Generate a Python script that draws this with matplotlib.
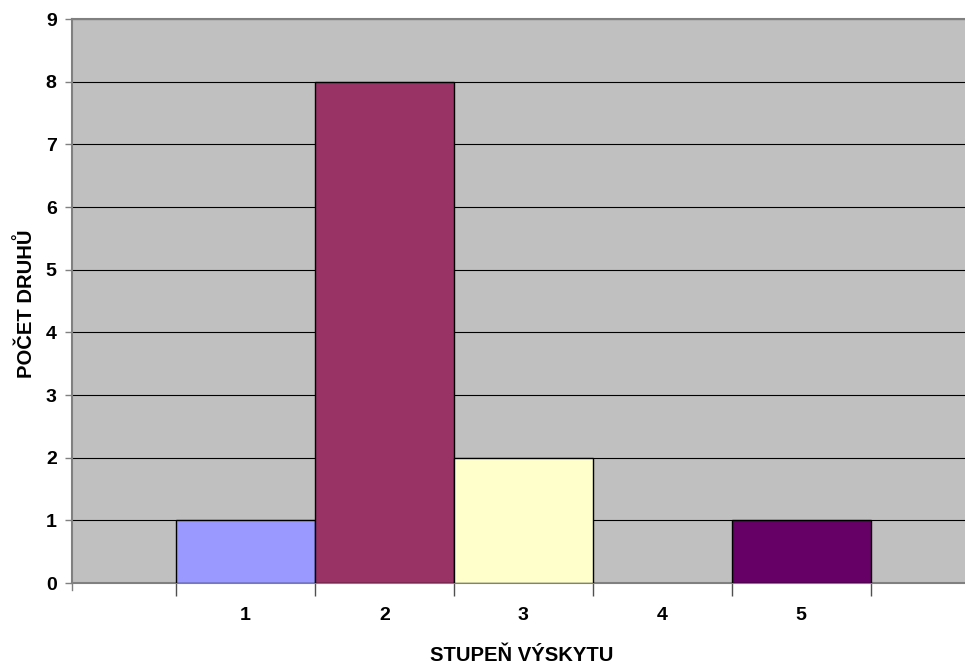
import matplotlib
matplotlib.use("Agg")
import matplotlib.pyplot as plt
from matplotlib.transforms import blended_transform_factory

categories = [1, 2, 3, 4, 5]
counts = [1, 8, 2, 0, 1]
bar_colors = ["#9999FF", "#993366", "#FFFFCC", "#C0C0C0", "#660066"]
y_ticks = list(range(0, 10))
x_title = "STUPEŇ VÝSKYTU"
y_title = "POČET DRUHŮ"

plt.rcParams["font.family"] = ["Liberation Sans", "DejaVu Sans"]
FS = 14
FS_TITLE = 14.6

fig = plt.figure(figsize=(9.65, 6.64), dpi=100)
ax = fig.add_axes([72 / 965, 81 / 664, 1 - 72 / 965, (583 - 19) / 664])
ax.set_facecolor("#C0C0C0")

x_left = -0.248
ax.set_xlim(x_left, 6.18)
ax.set_ylim(0, 9)

ax.set_axisbelow(True)
ax.yaxis.grid(True, color="black", linewidth=0.8)

for c, v, col in zip(categories, counts, bar_colors):
    if v > 0:
        ax.bar(c, v, width=1.0, color=col, edgecolor="black", linewidth=1.0, zorder=3)

ax.set_yticks(y_ticks)
ax.set_yticklabels([str(t) for t in y_ticks], fontsize=FS, fontweight="bold")
ax.tick_params(axis="y", length=5, width=1, color="#808080", direction="out", pad=6)

ax.set_xticks(categories)
ax.set_xticklabels([str(c) for c in categories], fontsize=FS, fontweight="bold")
ax.tick_params(axis="x", which="major", length=0, pad=17)
edges = [c - 0.5 for c in categories] + [categories[-1] + 0.5]
ax.set_xticks(edges, minor=True)
ax.tick_params(axis="x", which="minor", length=9.5, width=1, color="#505050", direction="out")

# short tick where the value axis meets the category axis
trans = blended_transform_factory(ax.transData, ax.transAxes)
ax.plot([x_left, x_left], [0, -7 / 564], transform=trans, color="#808080",
        linewidth=1, clip_on=False)

for side in ("left", "bottom", "top"):
    ax.spines[side].set_color("#808080")
    ax.spines[side].set_linewidth(1.5)
ax.spines["right"].set_visible(False)

ax.set_xlabel(x_title, fontsize=FS_TITLE, fontweight="bold")
ax.xaxis.set_label_coords(0.504, -0.111)
ax.set_ylabel(y_title, fontsize=FS_TITLE, fontweight="bold")
ax.yaxis.set_label_coords(-0.040, 0.495)

fig.savefig("out.png", dpi=100, facecolor="white")
